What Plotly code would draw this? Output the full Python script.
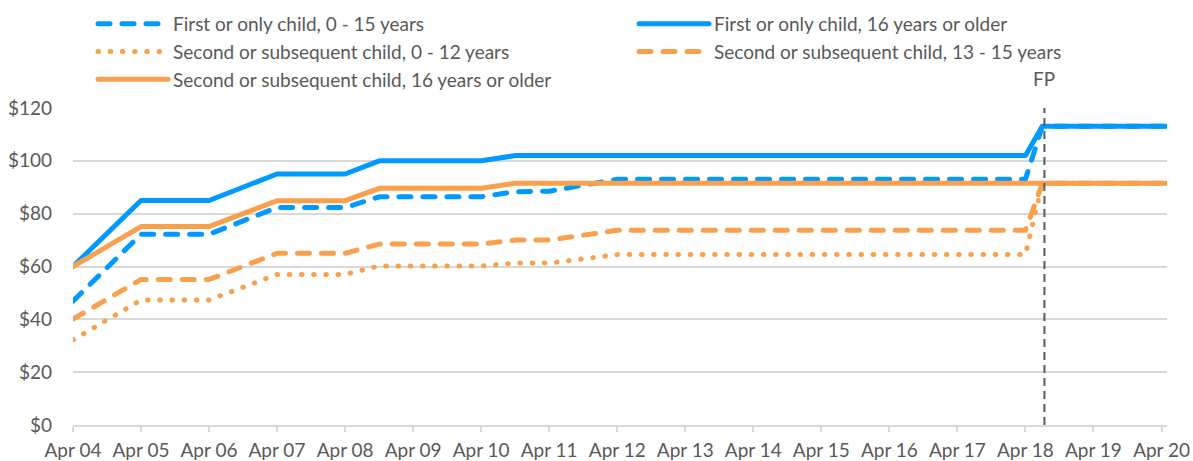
import plotly.graph_objects as go

# ---- data ----
dates = ["2004-04-01", "2005-04-01", "2006-04-01", "2007-04-01", "2008-04-01",
         "2008-10-01", "2010-04-01", "2010-10-01", "2011-04-01", "2012-04-01",
         "2018-04-01", "2018-07-01", "2020-04-30"]

first_0_15 = [46.9, 72.2, 72.2, 82.3, 82.3, 86.4, 86.4, 88.3, 88.5, 93.0, 93.0, 113.1, 113.1]
first_16_plus = [60.0, 85.0, 85.0, 95.0, 95.0, 100.0, 100.0, 102.0, 102.0, 102.0, 102.0, 113.1, 113.1]
second_0_12 = [32.2, 47.3, 47.3, 57.0, 57.0, 60.2, 60.2, 61.3, 61.3, 64.5, 64.5, 91.5, 91.5]
second_13_15 = [40.1, 55.1, 55.1, 65.0, 65.0, 68.5, 68.5, 70.0, 70.0, 73.7, 73.7, 91.5, 91.5]
second_16_plus = [60.0, 75.1, 75.1, 84.9, 84.9, 89.6, 89.6, 91.5, 91.5, 91.5, 91.5, 91.5, 91.5]

series_names = [
    "First or only child, 0 - 15 years",
    "First or only child, 16 years or older",
    "Second or subsequent child, 0 - 12 years",
    "Second or subsequent child, 13 - 15 years",
    "Second or subsequent child, 16 years or older",
]
tick_dates = [f"{y}-04-01" for y in range(2004, 2021)]
y_ticks = [0, 20, 40, 60, 80, 100, 120]
y_tick_labels = ["$0", "$20", "$40", "$60", "$80", "$100", "$120"]
fp_date = "2018-07-12"
fp_label = "FP"

BLUE = "#0099FF"
ORANGE = "#F9A04C"
TEXT = "#595959"
GRID = "#D9D9D9"
FONT = "Lato, 'Open Sans', sans-serif"
FS = 19

series = [first_0_15, first_16_plus, second_0_12, second_13_15, second_16_plus]
colors = [BLUE, BLUE, ORANGE, ORANGE, ORANGE]
dashes = ["12px,12px", "solid", "0.5px,11.7px", "12px,12px", "solid"]

fig = go.Figure()
for name, vals, c, d in zip(series_names, series, colors, dashes):
    fig.add_trace(go.Scatter(
        x=dates, y=vals, name=name, mode="lines",
        line=dict(color=c, width=5, dash=d),
        hoverinfo="skip",
    ))

fig.add_shape(type="line", xref="x", yref="y", x0=fp_date, x1=fp_date, y0=0, y1=120,
              line=dict(color=TEXT, width=2, dash="8px,5px"), layer="above")
fig.add_annotation(x=fp_date, xref="x", y=1, yref="paper", yanchor="middle", yshift=30,
                   text=fp_label, showarrow=False,
                   font=dict(family=FONT, size=FS, color=TEXT))

fig.update_layout(
    width=1193, height=461,
    margin=dict(l=73, r=26, t=108, b=36, autoexpand=False),
    paper_bgcolor="white", plot_bgcolor="white",
    font=dict(family=FONT, size=FS, color=TEXT),
    showlegend=True,
    legend=dict(
        orientation="h", xref="container", yref="container",
        x=93 / 1193, xanchor="left", y=1 - 5 / 461, yanchor="top",
        entrywidth=456, entrywidthmode="pixels", itemwidth=70,
        font=dict(family=FONT, size=FS, color=TEXT),
        traceorder="normal", bgcolor="rgba(0,0,0,0)",
    ),
    xaxis=dict(
        type="date", range=["2004-04-01", "2020-04-30"],
        tickvals=tick_dates, tickformat="%b %y",
        showgrid=False, showline=True, linecolor=GRID, linewidth=1.5,
        ticks="outside", ticklen=5, tickcolor=GRID, tickwidth=1.5,
        ticklabelstandoff=2,
        tickfont=dict(family=FONT, size=FS, color=TEXT), zeroline=False,
    ),
    yaxis=dict(
        range=[0, 120], tickmode="array", tickvals=y_ticks, ticktext=y_tick_labels,
        showgrid=True, gridcolor=GRID, gridwidth=1.5,
        zeroline=False, showline=False, ticks="", ticklabelstandoff=20,
        tickfont=dict(family=FONT, size=FS, color=TEXT),
    ),
)

post = """
document.body.style.margin = '0';
document.querySelectorAll('path.js-line').forEach(function(p){
  p.style.strokeLinecap='round'; p.style.strokeLinejoin='round';
});
"""
fig.write_html("out.html", post_script=post, config={"displayModeBar": False})
